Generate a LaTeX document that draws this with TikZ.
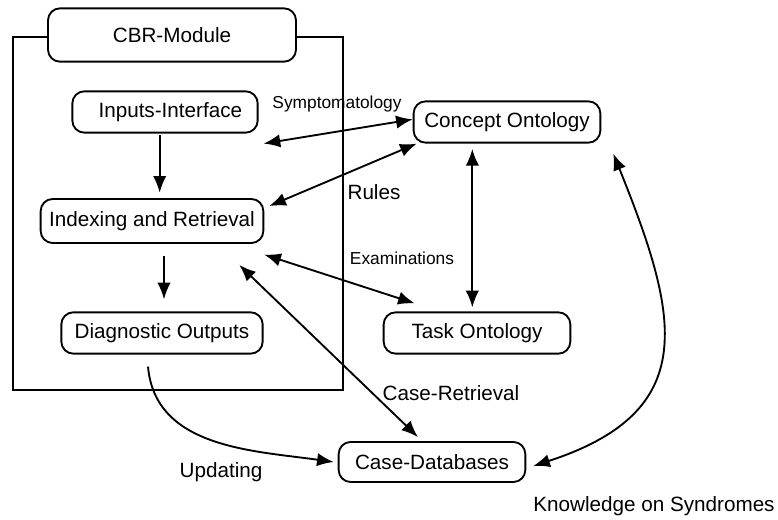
\documentclass[tikz,border=0pt]{standalone}
\usepackage{fontspec}
\setmainfont{Liberation Sans}
\usetikzlibrary{arrows.meta}

\begin{document}
\begin{tikzpicture}[x=0.75pt,y=0.75pt,
        box/.style={draw,line width=1.4pt,rounded corners=9pt,fill=white,
            minimum height=31pt,inner sep=2pt,font=\fontsize{15.5}{18}\selectfont},
        lbl/.style={font=\fontsize{13}{15}\selectfont},
        biglbl/.style={font=\fontsize{15.5}{18}\selectfont},
        conn/.style={line width=1.4pt,-{Latex[length=12.5pt,width=10pt]}},
        dconn/.style={line width=1.4pt,{Latex[length=12.5pt,width=10pt]}-{Latex[length=12.5pt,width=10pt]}}]
        \useasboundingbox (0,0) rectangle (778,520);
        \draw[line width=1.5pt] (13,130) rectangle (343,483);
        \node[box,minimum width=186pt,minimum height=40pt] (cbr) at (172,485) {CBR-Module};
        \node[box,minimum width=139pt] (inp) at (165,408) {\hspace{8pt}Inputs-Interface};
        \node[box,minimum width=167pt,minimum height=33pt] (idx) at (152,299) {Indexing and Retrieval};
        \node[box,minimum width=151pt] (diag) at (162,187) {Diagnostic Outputs};
        \node[box,minimum width=140pt] (con) at (507,398) {Concept Ontology};
        \node[box,minimum width=140pt] (task) at (477,187) {Task Ontology};
        \node[box,minimum width=140pt,minimum height=30pt] (cdb) at (432,58) {Case-Databases};
        \node[lbl] (symlbl) at (337,416) {Symptomatology};
        \node[biglbl] (rulelbl) at (374,328) {Rules};
        \node[lbl] (examlbl) at (402,262) {Examinations};
        \node[biglbl] (retrlbl) at (451,127) {Case-Retrieval};
        \node[biglbl] (updlbl) at (221,48) {Updating};
        \node[biglbl] (synlbl) at (654,14) {Knowledge on Syndromes};
        \draw[conn,shorten <=1pt,shorten >=4pt] ([xshift=-4]inp.south) -- ([xshift=-4]inp.south |- idx.north);
        \draw[conn,shorten <=9pt,shorten >=9pt] ([xshift=9]idx.south) -- ([xshift=9]idx.south |- diag.north);
        \draw[dconn] ([shift={(5,-10)}]inp.south east) -- ([yshift=2]con.west);
        \draw[dconn] ([shift={(5,-8)}]idx.north east) -- ([xshift=3]con.south west);
        \draw[dconn] ([yshift=-8]idx.south east) -- ([shift={(32,8)}]task.north west);
        \draw[dconn,shorten <=4pt,shorten >=3pt] ([xshift=-26]con.south) -- ([xshift=-26]con.south |- task.north);
        \draw[dconn] ([shift={(-25,-21)}]idx.south east) -- ([shift={(-14,4)}]cdb.north);
        \draw[conn] ([shift={(-14,-12)}]diag.south) to[out=-85,in=172] ([xshift=-3]cdb.west);
        \draw[dconn] ([shift={(12,-10)}]con.south east) to[out=-68,in=18,looseness=1.4] ([shift={(7,-4)}]cdb.east);
\end{tikzpicture}
\end{document}
